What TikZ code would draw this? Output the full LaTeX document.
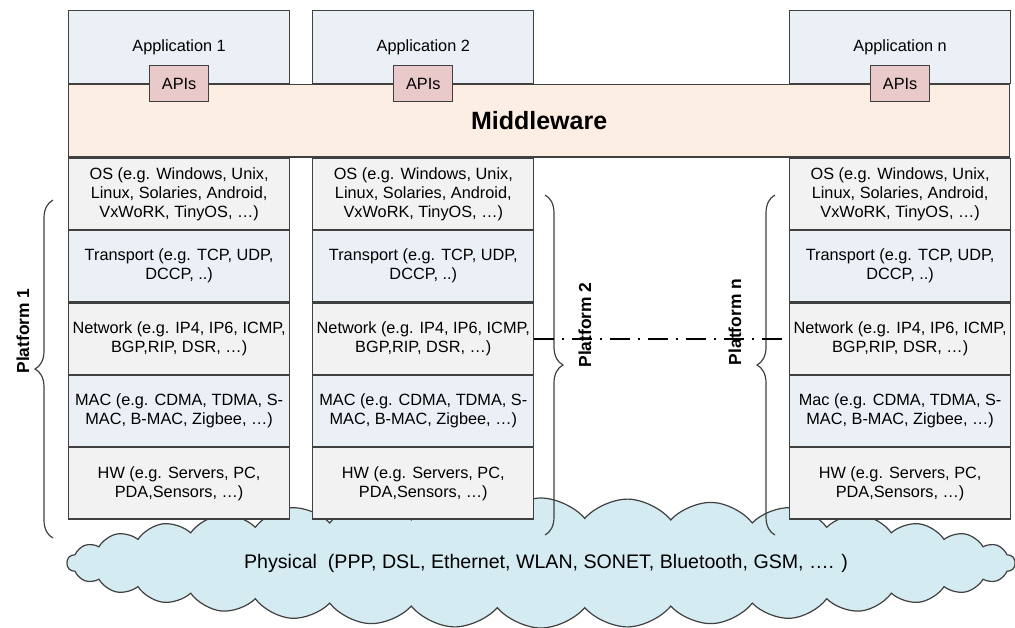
\documentclass[tikz,border=0pt]{standalone}
\usepackage{fontspec}
\setmainfont{Liberation Sans}
\usepackage{xcolor}
\usetikzlibrary{shapes.symbols, decorations.pathreplacing, positioning, calc}

\definecolor{appblue}{HTML}{EBF0F6}
\definecolor{laygray}{HTML}{F2F2F2}
\definecolor{mwpeach}{HTML}{FDEEE3}
\definecolor{apipink}{HTML}{E9C9C9}
\definecolor{cloudblue}{HTML}{D4EBF1}
\definecolor{edge}{HTML}{404040}

\begin{document}
\begin{tikzpicture}[
  font=\fontsize{8.15}{9.5}\selectfont,
  layer/.style={draw=edge, line width=0.6pt, align=center,
                minimum width=110.5pt, minimum height=35.6pt, inner sep=0pt},
  app/.style={layer, fill=appblue, minimum height=36.3pt},
  gr/.style={layer, fill=laygray},
  bl/.style={layer, fill=appblue},
  mw/.style={draw=edge, line width=0.6pt, fill=mwpeach,
             minimum width=470.5pt, minimum height=36.3pt,
             font=\fontsize{12.5}{14}\selectfont\bfseries},
  api/.style={draw=edge, line width=0.6pt, fill=apipink,
              minimum width=29.5pt, minimum height=18pt, inner sep=0pt},
  phys/.style={cloud, cloud puffs=34, cloud puff arc=100, aspect=12,
               draw=edge, line width=0.6pt, fill=cloudblue, inner sep=0pt,
               minimum width=474pt, minimum height=65pt,
               font=\fontsize{9.8}{11}\selectfont},
  brc/.style={decorate, decoration={brace, amplitude=9pt}, draw=edge,
              line width=0.6pt},
  plat/.style={rotate=90, font=\fontsize{8.7}{10}\selectfont\bfseries},
  link/.style={line width=1pt, dash pattern=on 10pt off 4pt on 1pt off 4pt}
]
\useasboundingbox (0,0) rectangle (507.5pt,-313.5pt);

% physical layer, behind everything
\node[phys] (phy) at (270.5pt,-281.5pt)
     {\hspace{5pt}Physical \ (PPP, DSL, Ethernet, WLAN, SONET, Bluetooth, GSM, \dots. )};

% applications and middleware
\node[app, anchor=north west] (app1) at (34pt,-5pt) {Application 1};
\node[app, right=11pt of app1] (app2) {Application 2};
\node[app, anchor=north west] (appn) at (394.5pt,-5pt) {Application n};
\node[mw, anchor=north west] (mw) at (app1.south west) {Middleware};

% protocol stacks
\foreach \c/\mac in {1/MAC, 2/MAC, n/Mac} {
  \node[api] (api\c) at (app\c.south) {APIs};
  \node[gr, anchor=north] (os\c) at (app\c.south |- mw.south)
       {OS (e.g. Windows, Unix,\\Linux, Solaries, Android,\\VxWoRK, TinyOS, \dots)};
  \node[bl, below=0pt of os\c] (tr\c) {Transport (e.g. TCP, UDP,\\DCCP, ..)};
  \node[gr, below=0pt of tr\c] (net\c) {Network (e.g. IP4, IP6, ICMP,\\BGP,RIP, DSR, \dots)};
  \node[bl, below=0pt of net\c] (mac\c) {\mac{} (e.g. CDMA, TDMA, S-\\MAC, B-MAC, Zigbee, \dots)};
  \node[gr, below=0pt of mac\c] (hw\c) {HW (e.g. Servers, PC,\\PDA,Sensors, \dots)};
}

% platform braces
\coordinate (b1s) at (26.5pt,-269pt);
\coordinate (b1e) at (26.5pt,-100pt);
\coordinate (b2s) at (272.5pt,-97.5pt);
\coordinate (b2e) at (272.5pt,-267.5pt);
\coordinate (bns) at (387.5pt,-267.5pt);
\coordinate (bne) at (387.5pt,-97.5pt);
\draw[brc] (b1s) -- (b1e);
\draw[brc] (b2s) -- (b2e);
\draw[brc] (bns) -- (bne);
\node[plat] (p1) at (11.5pt,-165.5pt) {Platform 1};
\node[plat] (p2) at (292.5pt,-162.5pt) {Platform 2};
\node[plat] (pn) at (367.5pt,-161pt) {Platform n};

\draw[link] (net2.east) -- (netn.west);
\end{tikzpicture}
\end{document}
